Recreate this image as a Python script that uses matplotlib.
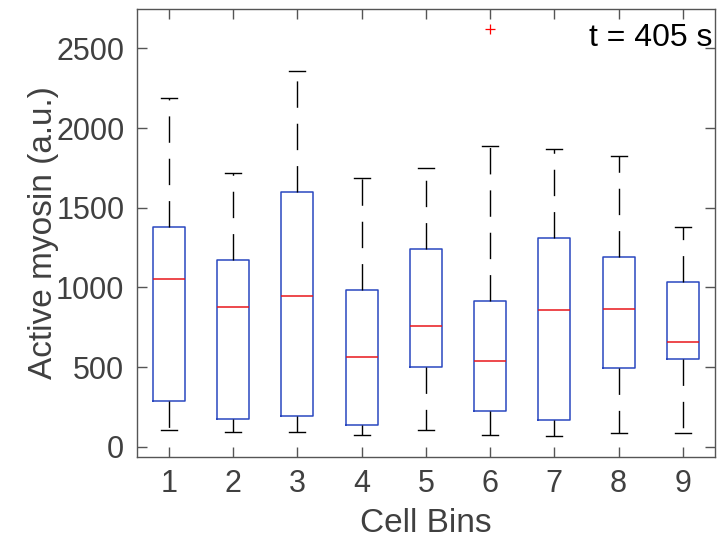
import matplotlib
matplotlib.use("Agg")
import matplotlib.pyplot as plt

# Data (per cell bin)
bins = [1, 2, 3, 4, 5, 6, 7, 8, 9]
whisker_low = [107, 94, 94, 75, 103, 72, 67, 88, 86]
q1 = [287, 174, 195, 138, 502, 228, 170, 496, 550]
median = [1052, 878, 947, 563, 759, 538, 856, 862, 657]
q3 = [1380, 1171, 1600, 987, 1242, 918, 1311, 1190, 1033]
whisker_high = [2190, 1721, 2361, 1684, 1748, 1886, 1866, 1828, 1378]
outliers = [[], [], [], [], [], [2619], [], [], []]

yticks = [0, 500, 1000, 1500, 2000, 2500]
annotation = "t = 405 s"

plt.rcParams['font.family'] = ['Liberation Sans', 'DejaVu Sans']

fig = plt.figure(figsize=(7.28, 5.42), dpi=100)
ax = fig.add_axes([0.188, 0.157, 0.794, 0.826])

stats = []
for i in range(len(bins)):
    stats.append(dict(whislo=whisker_low[i], q1=q1[i], med=median[i], q3=q3[i],
                      whishi=whisker_high[i], fliers=outliers[i], label=str(bins[i])))

ax.bxp(stats, positions=bins, widths=0.5, showfliers=True,
       boxprops=dict(color='#2a48c0', linewidth=1.1),
       medianprops=dict(color='#e8161b', linewidth=1.1),
       whiskerprops=dict(color='black', linewidth=1.0, linestyle=(0, (19, 11.5))),
       capprops=dict(color='black', linewidth=1.0),
       capwidths=0.25,
       flierprops=dict(marker='+', markeredgecolor='red', markersize=7, linestyle='none',
                       markeredgewidth=0.9))

ax.set_xlim(0.5, 9.5)
ax.set_ylim(-63, 2746)
ax.set_yticks(yticks)
ax.set_xticks(bins)
ax.set_xticklabels([str(b) for b in bins])

for s in ax.spines.values():
    s.set_color('#555555')
    s.set_linewidth(1.0)
ax.tick_params(direction='in', length=7, width=1.0, colors='#555555', labelcolor='#404040',
               labelsize=22, top=True, right=True)
ax.tick_params(axis='y', pad=9)
ax.tick_params(axis='x', pad=9)

ax.set_xlabel('Cell Bins', fontsize=24, color='#404040', labelpad=6)
ax.set_ylabel('Active myosin (a.u.)', fontsize=24, color='#404040', labelpad=-2)

ax.text(0.996, 0.97, annotation, transform=ax.transAxes, ha='right', va='top',
        fontsize=23, color='black')

fig.savefig('out.png', dpi=100)
